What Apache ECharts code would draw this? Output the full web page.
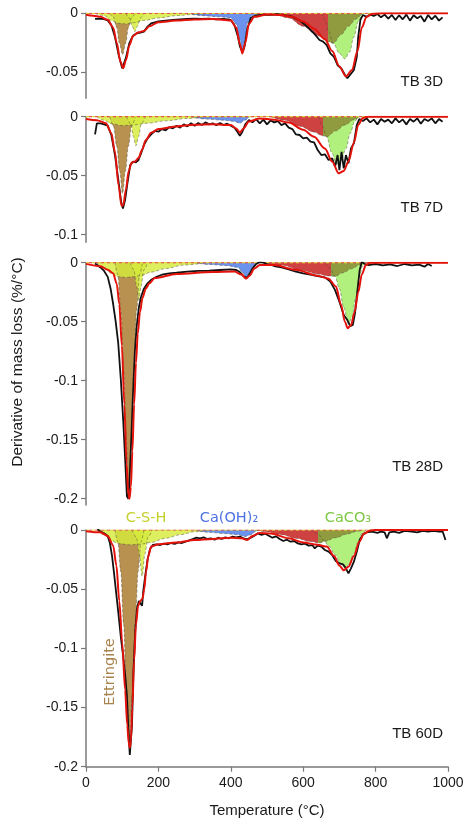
<!DOCTYPE html>
<html><head><meta charset="utf-8">
<script src="https://cdn.jsdelivr.net/npm/echarts@6/dist/echarts.min.js"></script>
<style>html,body{margin:0;padding:0;background:#fff}#c{width:467px;height:822px}</style>
</head><body><div id="c"></div>
<script>
// ---------------- DATA ----------------
const panelNames = ['TB 3D', 'TB 7D', 'TB 28D', 'TB 60D'];
const yTickVals = [[0, -0.05], [0, -0.05, -0.1], [0, -0.05, -0.1, -0.15, -0.2], [0, -0.05, -0.1, -0.15, -0.2]];
const xTickVals = [0, 200, 400, 600, 800, 1000];
const oliveFrom = [668, 655, 676, 642];
const phaseNames = ['C-S-H', 'Ca(OH)₂', 'CaCO₃', 'Ettringite'];

// TB 3D
const d3ExpT = [25,40,50,60,70,80,90,100,105,110,120,130,140,150,160,170,180,200,220,240,260,280,300,320,340,360,380,400,410,420,425,432,438,445,455,470,490,510,530,550,570,590,610,630,645,655,665,675,685,695,705,715,722,730,740,748,752,758,765,775,785,795,805,815,825,835,845,855,865,875,885,895,905,915,925,935,945,955,965,975,985];
const d3ExpV = [-0.0048,-0.0045,-0.005,-0.006,-0.010,-0.020,-0.035,-0.0466,-0.045,-0.038,-0.025,-0.019,-0.017,-0.0164,-0.0155,-0.0113,-0.0085,-0.0068,-0.0062,-0.0056,-0.0051,-0.0048,-0.0045,-0.0048,-0.0045,-0.0051,-0.0048,-0.0056,-0.010,-0.020,-0.028,-0.033,-0.028,-0.014,-0.004,-0.0017,-0.0011,-0.0014,-0.0008,-0.0017,-0.0028,-0.006,-0.011,-0.017,-0.0226,-0.024,-0.027,-0.034,-0.037,-0.044,-0.0466,-0.052,-0.055,-0.052,-0.048,-0.037,-0.020,-0.0056,-0.0014,-0.003,-0.0011,-0.0023,-0.0006,-0.0034,-0.0011,-0.0045,-0.0014,-0.0056,-0.0017,-0.0051,-0.0011,-0.0062,-0.0017,-0.0042,-0.0023,-0.0071,-0.0014,-0.0051,-0.002,-0.0062,-0.0034];
const d3FitT = [0,20,40,60,75,85,95,103,110,120,130,145,160,175,200,250,300,350,400,415,425,432,440,450,465,500,540,570,600,630,660,680,700,718,735,750,762,775,790,820,1000];
const d3FitV = [-0.0012,-0.002,-0.003,-0.0055,-0.012,-0.025,-0.041,-0.0465,-0.040,-0.027,-0.019,-0.016,-0.015,-0.011,-0.0075,-0.0062,-0.0052,-0.0048,-0.006,-0.012,-0.026,-0.034,-0.025,-0.009,-0.003,-0.001,-0.0015,-0.003,-0.007,-0.013,-0.022,-0.032,-0.045,-0.0535,-0.048,-0.032,-0.012,-0.003,-0.0005,0,0];
const d3EttT = [65,75,85,92,101,110,117,127,137];
const d3EttV = [0,-0.003,-0.012,-0.025,-0.035,-0.025,-0.012,-0.003,0];
const d3CshAT = [25,50,70,90,110,130,160,200,250,300,350];
const d3CshAV = [0,-0.002,-0.006,-0.0085,-0.009,-0.008,-0.006,-0.004,-0.002,-0.0008,0];
const d3CshBT = [110,120,128,135,142,150,160];
const d3CshBV = [0,-0.004,-0.011,-0.0155,-0.011,-0.004,0];
const d3ChT = [280,320,370,400,415,425,432,439,446,460,480];
const d3ChV = [0,-0.002,-0.003,-0.004,-0.009,-0.022,-0.033,-0.022,-0.008,-0.002,0];
const d3DecT = [520,560,600,640,670,683,705,725,745,762];
const d3DecV = [0,-0.004,-0.011,-0.019,-0.024,-0.0254,-0.018,-0.011,-0.005,0];
const d3CcT = [652,660,670,683,700,715,728,740,752,762];
const d3CcV = [0,-0.006,-0.015,-0.0254,-0.034,-0.0385,-0.033,-0.02,-0.007,0];

// TB 7D
const d7ExpT = [25,30,40,50,60,70,80,90,97,102,108,115,122,130,138,145,152,160,170,180,190,200,210,220,230,240,250,260,270,280,290,300,310,320,330,340,350,360,370,380,390,400,410,418,425,432,440,450,460,470,480,490,500,510,520,530,540,550,560,570,580,590,600,610,620,630,640,650,660,670,680,688,695,700,706,712,718,725,732,740,748,755,765,775,785,795,805,815,825,835,845,855,865,875,885,895,905,915,925,935,945,955,965,975,985];
const d7ExpV = [-0.015,-0.0056,-0.0056,-0.0065,-0.0076,-0.0155,-0.0325,-0.0551,-0.072,-0.0777,-0.0706,-0.0551,-0.041,-0.0381,-0.0387,-0.0367,-0.0311,-0.024,-0.0184,-0.015,-0.0121,-0.0127,-0.0105,-0.0116,-0.0088,-0.0099,-0.0076,-0.0093,-0.0065,-0.0082,-0.0056,-0.0076,-0.0054,-0.0071,-0.0048,-0.0065,-0.0056,-0.0073,-0.0054,-0.0071,-0.0059,-0.0076,-0.0093,-0.0127,-0.0161,-0.0127,-0.0065,-0.0028,-0.0048,-0.002,-0.0056,-0.0025,-0.0065,-0.0031,-0.0048,-0.0037,-0.0071,-0.0056,-0.0093,-0.0105,-0.015,-0.0155,-0.0184,-0.0178,-0.0212,-0.0218,-0.0282,-0.0325,-0.0319,-0.0367,-0.0353,-0.0424,-0.0325,-0.0452,-0.0297,-0.0438,-0.0325,-0.0395,-0.0268,-0.0226,-0.0071,-0.002,-0.0037,-0.0014,-0.0048,-0.0025,-0.0065,-0.002,-0.0042,-0.0025,-0.0056,-0.0014,-0.0048,-0.0023,-0.0065,-0.002,-0.0042,-0.0014,-0.0059,-0.002,-0.0037,-0.0014,-0.0056,-0.002,-0.0042];
const d7FitT = [0,30,55,70,80,90,98,103,110,118,126,135,145,155,165,180,200,250,300,350,400,415,425,435,450,480,520,560,600,630,660,680,698,712,725,740,752,765,780,1000];
const d7FitV = [-0.002,-0.003,-0.0055,-0.014,-0.03,-0.058,-0.0755,-0.075,-0.062,-0.046,-0.039,-0.038,-0.035,-0.028,-0.02,-0.0135,-0.0105,-0.0082,-0.0068,-0.0065,-0.007,-0.01,-0.0135,-0.01,-0.004,-0.0015,-0.0025,-0.005,-0.011,-0.017,-0.027,-0.038,-0.048,-0.046,-0.038,-0.022,-0.007,-0.001,0,0];
const d7EttT = [66,76,85,93,101,109,117,126,136];
const d7EttV = [0,-0.008,-0.025,-0.046,-0.065,-0.046,-0.025,-0.008,0];
const d7CshAT = [30,50,70,100,130,170,220,280,330];
const d7CshAV = [0,-0.003,-0.006,-0.0075,-0.007,-0.0055,-0.0035,-0.0015,0];
const d7CshBT = [112,124,131,138,145,153,164];
const d7CshBV = [0,-0.006,-0.017,-0.0246,-0.017,-0.006,0];
const d7ChT = [290,330,380,410,425,438,452];
const d7ChV = [0,-0.002,-0.003,-0.004,-0.0055,-0.003,0];
const d7DecT = [510,550,590,630,652,665,690,715,740,755];
const d7DecV = [0,-0.003,-0.008,-0.013,-0.016,-0.017,-0.012,-0.007,-0.0025,0];
const d7CcT = [643,652,665,678,692,705,718,730,742,752];
const d7CcV = [0,-0.007,-0.017,-0.03,-0.04,-0.037,-0.027,-0.014,-0.004,0];

// TB 28D
const d28ExpT = [25,40,50,60,68,75,82,89,96,103,109,113,117,121,125,130,135,140,146,152,160,170,180,195,210,230,250,280,310,340,370,400,415,425,435,443,450,460,470,480,490,500,520,540,560,580,600,620,640,660,675,688,700,712,722,730,737,743,750,756,762,770,780,800,820,840,860,880,900,920,935,945,955];
const d28ExpV = [-0.0006,-0.004,-0.007,-0.012,-0.022,-0.035,-0.05,-0.068,-0.098,-0.135,-0.172,-0.198,-0.2,-0.18,-0.15,-0.11,-0.075,-0.054,-0.038,-0.029,-0.022,-0.0175,-0.0145,-0.012,-0.0102,-0.009,-0.0085,-0.0076,-0.007,-0.0068,-0.0062,-0.0056,-0.0062,-0.0079,-0.0113,-0.013,-0.0105,-0.0048,-0.0011,0.0006,0,-0.0011,-0.0028,-0.004,-0.0056,-0.0076,-0.009,-0.0102,-0.0113,-0.0124,-0.016,-0.0232,-0.033,-0.0443,-0.0486,-0.0537,-0.0528,-0.043,-0.0232,-0.0062,0.0008,-0.0011,-0.002,-0.0011,-0.0023,-0.0014,-0.0028,-0.0011,-0.0023,-0.0017,-0.0034,-0.0011,-0.0028];
const d28FitT = [0,40,60,75,85,92,99,106,112,117,120,124,128,133,138,143,149,156,165,175,190,250,350,410,430,442,452,465,480,520,580,640,670,690,705,715,723,732,742,752,762,773,785,1000];
const d28FitV = [-0.001,-0.003,-0.006,-0.009,-0.018,-0.035,-0.07,-0.12,-0.17,-0.197,-0.2,-0.19,-0.16,-0.12,-0.085,-0.06,-0.042,-0.03,-0.022,-0.0175,-0.013,-0.0095,-0.0078,-0.0075,-0.01,-0.0135,-0.011,-0.005,-0.002,-0.002,-0.006,-0.011,-0.0135,-0.02,-0.036,-0.05,-0.0555,-0.053,-0.042,-0.025,-0.01,-0.002,0,0];
const d28EttT = [80,88,96,104,111,118,125,132,140,148,156];
const d28EttV = [0,-0.01,-0.04,-0.09,-0.15,-0.2,-0.15,-0.09,-0.04,-0.01,0];
const d28CshAT = [30,50,70,90,110,130,150,180,220,270,330];
const d28CshAV = [0,-0.004,-0.009,-0.012,-0.0125,-0.012,-0.011,-0.008,-0.005,-0.002,0];
const d28CshBT = [122,132,140,146,152,160,170];
const d28CshBV = [0,-0.006,-0.02,-0.0325,-0.02,-0.006,0];
const d28ChT = [300,340,390,420,432,443,452,462,475];
const d28ChV = [0,-0.0015,-0.0025,-0.004,-0.008,-0.0125,-0.008,-0.003,0];
const d28DecT = [490,540,590,640,670,688,710,735,755,768];
const d28DecV = [0,-0.002,-0.006,-0.0095,-0.0112,-0.0115,-0.0085,-0.005,-0.002,0];
const d28CcT = [662,675,688,700,712,725,735,745,755,765,772];
const d28CcV = [0,-0.005,-0.0115,-0.022,-0.038,-0.052,-0.046,-0.03,-0.012,-0.002,0];

// TB 60D
const d60ExpT = [32,40,50,60,66,72,78,84,90,96,102,108,113,117,121,124,127,131,136,141,146,151,155,158,163,170,177,185,195,205,215,225,235,245,255,265,275,285,295,305,315,325,335,345,355,365,375,385,395,405,415,425,435,445,455,465,475,485,495,505,515,525,535,545,555,565,575,585,595,605,615,625,632,640,650,660,670,680,690,700,710,718,725,732,740,748,756,765,775,790,805,815,825,831,838,850,865,880,900,915,930,945,960,975,985,993];
const d60ExpV = [0.0008,-0.0014,-0.0028,-0.005,-0.011,-0.022,-0.038,-0.055,-0.072,-0.09,-0.105,-0.122,-0.14,-0.168,-0.19,-0.1915,-0.165,-0.12,-0.085,-0.066,-0.06,-0.061,-0.064,-0.052,-0.04,-0.025,-0.016,-0.0125,-0.0121,-0.0127,-0.0115,-0.0121,-0.011,-0.0118,-0.0104,-0.011,-0.0099,-0.0087,-0.0076,-0.0065,-0.007,-0.0062,-0.0076,-0.007,-0.0082,-0.0065,-0.0076,-0.0062,-0.007,-0.0056,-0.0062,-0.0056,-0.007,-0.0079,-0.0065,-0.0048,-0.0028,-0.0042,-0.0031,-0.0048,-0.0065,-0.0054,-0.0076,-0.0093,-0.0082,-0.0099,-0.0093,-0.0113,-0.0121,-0.0115,-0.0132,-0.0127,-0.0155,-0.0132,-0.0141,-0.0169,-0.0183,-0.0211,-0.0262,-0.0282,-0.029,-0.0324,-0.0366,-0.0324,-0.0268,-0.0183,-0.0085,-0.0037,-0.002,-0.0014,-0.0025,-0.0014,-0.002,-0.007,-0.002,-0.0014,-0.0025,-0.0008,-0.0014,-0.002,-0.0008,-0.0014,-0.0008,-0.0014,-0.0011,-0.0085];
const d60FitT = [0,40,60,75,84,92,100,108,114,118,121,124,128,133,138,144,150,156,161,166,172,180,200,250,300,350,400,430,445,460,480,510,560,600,640,665,685,700,712,725,740,755,768,785,800,1000];
const d60FitV = [-0.001,-0.002,-0.005,-0.013,-0.03,-0.06,-0.095,-0.135,-0.165,-0.18,-0.184,-0.178,-0.15,-0.11,-0.08,-0.064,-0.06,-0.058,-0.05,-0.035,-0.022,-0.014,-0.012,-0.0105,-0.0085,-0.0075,-0.0065,-0.007,-0.0085,-0.005,-0.0025,-0.003,-0.007,-0.0105,-0.0125,-0.014,-0.022,-0.03,-0.034,-0.031,-0.022,-0.01,-0.003,-0.0005,0,0];
const d60EttT = [80,88,96,104,112,120,128,136,144,152,160];
const d60EttV = [0,-0.01,-0.035,-0.08,-0.14,-0.178,-0.14,-0.08,-0.035,-0.01,0];
const d60CshAT = [30,50,70,90,120,150,180,220,260,300,340];
const d60CshAV = [0,-0.004,-0.009,-0.0115,-0.0125,-0.012,-0.0105,-0.007,-0.004,-0.0015,0];
const d60CshBT = [127,139,147,155,163,171,183];
const d60CshBV = [0,-0.006,-0.02,-0.039,-0.02,-0.006,0];
const d60ChT = [300,340,380,420,440,455,470,480];
const d60ChV = [0,-0.002,-0.003,-0.004,-0.0055,-0.004,-0.001,0];
const d60DecT = [470,500,540,580,620,645,660,690,720,750,765];
const d60DecV = [0,-0.0015,-0.004,-0.007,-0.0098,-0.011,-0.0095,-0.0065,-0.0035,-0.001,0];
const d60CcT = [620,640,656,672,688,703,715,727,740,752,762,772];
const d60CcV = [0,-0.003,-0.0085,-0.014,-0.021,-0.028,-0.032,-0.029,-0.02,-0.01,-0.003,0];

// ---------------- LAYOUT ----------------
const gridTop = [13.3, 116.7, 262.7, 530];
const gridH = [85, 125.6, 242.3, 236.7];
const yMin = [-0.072, -0.1064, -0.2053, -0.2];
const GL = 86, GR = 19;

const P = [
  {exp:[d3ExpT,d3ExpV], fit:[d3FitT,d3FitV], ett:[d3EttT,d3EttV], cshA:[d3CshAT,d3CshAV], cshB:[d3CshBT,d3CshBV], ch:[d3ChT,d3ChV], dec:[d3DecT,d3DecV], cc:[d3CcT,d3CcV]},
  {exp:[d7ExpT,d7ExpV], fit:[d7FitT,d7FitV], ett:[d7EttT,d7EttV], cshA:[d7CshAT,d7CshAV], cshB:[d7CshBT,d7CshBV], ch:[d7ChT,d7ChV], dec:[d7DecT,d7DecV], cc:[d7CcT,d7CcV]},
  {exp:[d28ExpT,d28ExpV], fit:[d28FitT,d28FitV], ett:[d28EttT,d28EttV], cshA:[d28CshAT,d28CshAV], cshB:[d28CshBT,d28CshBV], ch:[d28ChT,d28ChV], dec:[d28DecT,d28DecV], cc:[d28CcT,d28CcV]},
  {exp:[d60ExpT,d60ExpV], fit:[d60FitT,d60FitV], ett:[d60EttT,d60EttV], cshA:[d60CshAT,d60CshAV], cshB:[d60CshBT,d60CshBV], ch:[d60ChT,d60ChV], dec:[d60DecT,d60DecV], cc:[d60CcT,d60CcV]}
];

const C = {ett:'#b8904f', csh:'#d6ec3c', ch:'#5b86ea', dec:'#cf4242', olive:'#8f9b3e', cc:'#b2f07e'};
const FONT = '"Liberation Sans", Arial, sans-serif';

function pairs(a){ return a[0].map((t,i)=>[t, a[1][i]]); }
function comp(i, arr, color, opacity){
  return {type:'line', xAxisIndex:i, yAxisIndex:i, data:pairs(arr), smooth:0.35, smoothMonotone:'x',
    symbol:'none', silent:true, z:2,
    lineStyle:{color:'#4d4d40', width:0.7, type:[3,2], opacity:0.7},
    areaStyle:{color:color, opacity:opacity, origin:'auto'}};
}

const grids = [], xAxes = [], yAxes = [], series = [], graphics = [];
for (let i = 0; i < 4; i++) {
  grids.push({left:GL, right:GR, top:gridTop[i], height:gridH[i]});
  const last = i === 3;
  xAxes.push({gridIndex:i, type:'value', min:0, max:1000, interval:200, show:last,
    axisLine:{show:last, onZero:false, lineStyle:{color:'#7a7a7a', width:1.5}},
    axisTick:{show:last, length:5, customValues:xTickVals, lineStyle:{color:'#7a7a7a', width:1.2}},
    axisLabel:{show:last, customValues:xTickVals, formatter:v => String(v), fontSize:14, color:'#1a1a1a', fontFamily:FONT, margin:9},
    splitLine:{show:false}});
  yAxes.push({gridIndex:i, type:'value', min:yMin[i], max:0,
    axisLine:{show:true, onZero:false, lineStyle:{color:'#7a7a7a', width:1.5}},
    axisTick:{show:true, length:5, customValues:yTickVals[i], lineStyle:{color:'#7a7a7a', width:1.2}},
    axisLabel:{customValues:yTickVals[i], formatter:v => v === 0 ? '0' : String(v), fontSize:14, color:'#1a1a1a', fontFamily:FONT, margin:8},
    splitLine:{show:false}});

  const p = P[i];
  series.push(comp(i, p.ett, C.ett, 1));
  series.push(comp(i, p.cshA, C.csh, 0.82));
  series.push(comp(i, p.cshB, C.csh, 0.82));
  series.push(comp(i, p.ch, C.ch, 0.9));
  series.push(comp(i, p.cc, C.cc, 1));
  const dT = p.dec[0];
  const s = (oliveFrom[i] - dT[0]) / (dT[dT.length-1] - dT[0]);
  series.push(comp(i, p.dec, new echarts.graphic.LinearGradient(0,0,1,0,[
    {offset:0, color:C.dec},{offset:s, color:C.dec},{offset:s, color:C.olive},{offset:1, color:C.olive}]), 1));
  series.push({type:'line', xAxisIndex:i, yAxisIndex:i, data:[[0,0],[1000,0]], symbol:'none', silent:true, z:3,
    lineStyle:{color:'#e0d23c', width:1.2, type:[3,3]}});
  series.push({type:'line', xAxisIndex:i, yAxisIndex:i, data:[[0,0],[1000,0]], symbol:'none', silent:true, z:3,
    lineStyle:{color:'#de5a4a', width:1.2, type:[3,3], dashOffset:3}});
  series.push({type:'line', xAxisIndex:i, yAxisIndex:i, data:pairs(p.exp), symbol:'none', silent:true, z:4,
    lineStyle:{color:'#111111', width:1.8}});
  series.push({type:'line', xAxisIndex:i, yAxisIndex:i, data:pairs(p.fit), symbol:'none', silent:true, z:5,
    smooth:0.3, smoothMonotone:'x', lineStyle:{color:'#e3120b', width:2}});
}

const labelY = [82, 208, 467, 734];
for (let i = 0; i < 4; i++) {
  graphics.push({type:'text', x:443, y:labelY[i], z:10,
    style:{text:panelNames[i], font:'15px ' + FONT, fill:'#1a1a1a', align:'right', verticalAlign:'middle', textAlign:'right', textVerticalAlign:'middle'}});
}
graphics.push({type:'text', x:18, y:362, rotation:Math.PI/2, z:10,
  style:{text:'Derivative of mass loss (%/°C)', font:'15.5px ' + FONT, fill:'#1a1a1a', align:'center', verticalAlign:'middle', textAlign:'center', textVerticalAlign:'middle'}});
graphics.push({type:'text', x:267, y:811, z:10,
  style:{text:'Temperature (°C)', font:'15px ' + FONT, fill:'#1a1a1a', align:'center', verticalAlign:'middle', textAlign:'center', textVerticalAlign:'middle'}});
const annX = [146, 229, 348], annCol = ['#c5d02c', '#4f72e3', '#7cc743'];
for (let k = 0; k < 3; k++) {
  graphics.push({type:'text', x:annX[k], y:518, z:10,
    style:{text:phaseNames[k], font:'14.5px "DejaVu Sans", sans-serif', fill:annCol[k], align:'center', verticalAlign:'middle', textAlign:'center', textVerticalAlign:'middle'}});
}
graphics.push({type:'text', x:110, y:672, rotation:Math.PI/2, z:10,
  style:{text:phaseNames[3], font:'14.5px "DejaVu Sans", sans-serif', fill:'#a8834d', align:'center', verticalAlign:'middle', textAlign:'center', textVerticalAlign:'middle'}});

const chart = echarts.init(document.getElementById('c'), null, {renderer:'canvas'});
chart.setOption({animation:false, backgroundColor:'#ffffff', grid:grids, xAxis:xAxes, yAxis:yAxes, series:series, graphic:graphics});
</script></body></html>
